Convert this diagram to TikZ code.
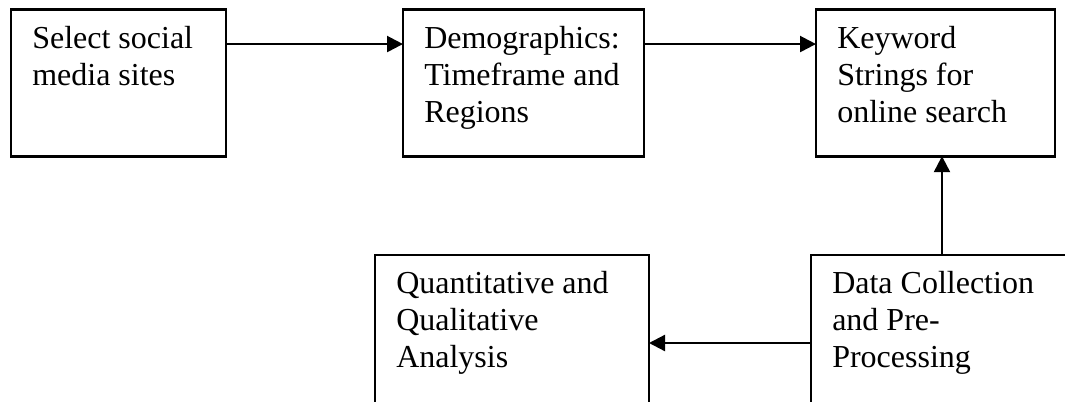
\documentclass[tikz,border=0pt]{standalone}
\usepackage{fontspec}
\setmainfont{Liberation Serif}
\usetikzlibrary{arrows.meta}
\begin{document}
\begin{tikzpicture}[x=0.75pt,y=-0.75pt,
  stage/.style={draw, line width=2.2pt, rectangle, anchor=north west, inner sep=0pt, outer sep=0pt},
  caption/.style={anchor=base west, align=left, inner sep=0pt, font=\fontsize{24}{27.75}\selectfont},
  flow/.style={line width=1.7pt, -{Triangle[length=12pt,width=12pt]}}]
\useasboundingbox (0,0) rectangle (1065,401);
\clip (0,0) rectangle (1065,401);
% process boxes
\node[stage, minimum width=161.25pt, minimum height=110pt] (b1) at (11,9.5) {};
\node[stage, minimum width=180.75pt, minimum height=110pt] (b2) at (403,9.5) {};
\node[stage, minimum width=179.25pt, minimum height=110pt] (b3) at (816,9.5) {};
\node[stage, minimum width=205.5pt, minimum height=150pt] (b4) at (375,255) {};
\node[stage, minimum width=225pt, minimum height=150pt] (b5) at (811,255) {};
% box texts (anchored at the baseline of the last line; 37 units per line)
\node[caption] (t1) at (32,85) {Select social\\media sites};
\node[caption] (t2) at (424,122) {Demographics:\\Timeframe and\\Regions};
\node[caption] (t3) at (837,122) {Keyword\\Strings for\\online search};
\node[caption] (t4) at (396,367) {Quantitative and\\Qualitative\\Analysis};
\node[caption] (t5) at (832,367) {Data Collection\\and Pre-\\Processing};
% connectors
\draw[flow] ([yshift=-25.9pt]b1.north east) -- ([yshift=-25.9pt]b2.north west);
\draw[flow] ([yshift=-25.9pt]b2.north east) -- ([yshift=-25.9pt]b3.north west);
\draw[flow] ([xshift=98.25pt]b5.north west) -- ([xshift=98.25pt]b5.north west |- b3.south);
\draw[flow] ([yshift=-66pt]b5.north west) -- ([yshift=-66pt]b4.north east);
\end{tikzpicture}
\end{document}
